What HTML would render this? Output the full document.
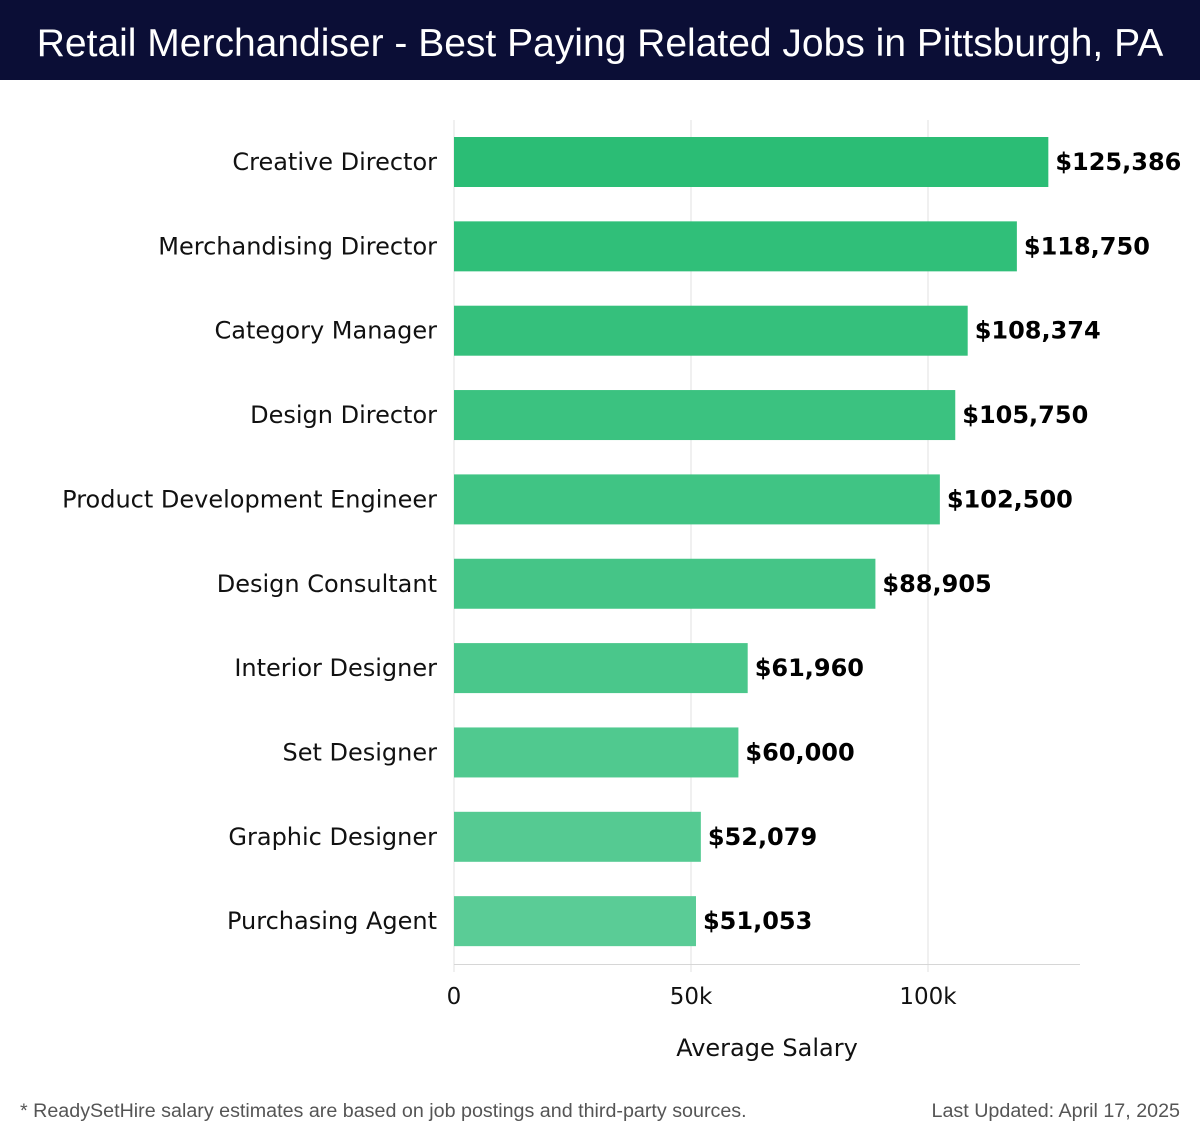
<!DOCTYPE html>
<html><head><meta charset="utf-8"><style>
body{margin:0;width:1200px;height:1140px;background:#fff;overflow:hidden;font-family:"DejaVu Sans","Liberation Sans",sans-serif}
#hdr{position:absolute;left:0;top:0;width:1200px;height:80px;background:#0b0e36;color:#fff;font-family:"Liberation Sans",sans-serif;font-size:39px;line-height:88px;text-align:center}
.foot{position:absolute;top:1100px;font-size:19.7px;color:#555;font-family:"Liberation Sans",sans-serif}
</style></head><body>
<div id="hdr">Retail Merchandiser - Best Paying Related Jobs in Pittsburgh, PA</div>
<svg id="c" width="1200" height="1140" style="position:absolute;left:0;top:0"></svg>
<div class="foot" style="left:20px">* ReadySetHire salary estimates are based on job postings and third-party sources.</div>
<div class="foot" style="right:20px">Last Updated: April 17, 2025</div>
<script>
const categories=["Creative Director","Merchandising Director","Category Manager","Design Director","Product Development Engineer","Design Consultant","Interior Designer","Set Designer","Graphic Designer","Purchasing Agent"];
const salaries=[125386,118750,108374,105750,102500,88905,61960,60000,52079,51053];
const tickValues=[0,50000,100000];
const tickLabels=["0","50k","100k"];
const svg=document.getElementById('c');const NS="http://www.w3.org/2000/svg";
const x0=454,pxPer=474/100000,top0=137,step=84.35,bh=50;
const xs=v=>x0+v*pxPer;
function mk(t,a,p){const e=document.createElementNS(NS,t);for(const k in a)e.setAttribute(k,a[k]);(p||svg).appendChild(e);return e;}
tickValues.forEach((v,i)=>{
 const g=mk('line',{x1:xs(v),x2:xs(v),y1:120,y2:972,stroke:'#e0e0e0','stroke-width':1});
 
 
 const t=mk('text',{x:xs(v),y:1004,'text-anchor':'middle','font-size':23,fill:'#111'});t.textContent=tickLabels[i];
 
 
});
const ax=mk('line',{x1:x0,x2:1080,y1:964.5,y2:964.5,stroke:'#d6d6d6','stroke-width':1});


const c1=[43,189,117],c2=[90,204,150];
categories.forEach((c,i)=>{
 const y=top0+i*step,f=i/(categories.length-1);
 const col=`rgb(${c1.map((a,k)=>Math.round(a+(c2[k]-a)*f)).join(',')})`;
 const r=mk('rect',{x:x0,y:y,width:xs(salaries[i])-x0,height:bh,fill:col});
 
 
 const l=mk('text',{x:437,y:y+bh/2+8,'text-anchor':'end','font-size':24,fill:'#111'});l.textContent=c;
 
 
 const v=mk('text',{x:xs(salaries[i])+7,y:y+bh/2+8,'font-size':24,'font-weight':'bold',fill:'#000'});v.textContent='$'+salaries[i].toLocaleString('en-US');
 
 
});
const at=mk('text',{x:767,y:1056,'text-anchor':'middle','font-size':24,fill:'#111'});at.textContent='Average Salary';


</script>
</body></html>
